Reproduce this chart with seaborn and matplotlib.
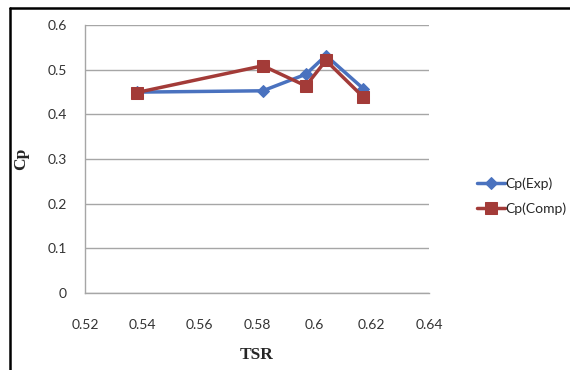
import pandas as pd
import seaborn as sns
import matplotlib.pyplot as plt
from matplotlib.lines import Line2D

tsr_exp = [0.538, 0.582, 0.597, 0.604, 0.617]
cp_exp = [0.450, 0.453, 0.490, 0.532, 0.458]
tsr_comp = [0.538, 0.582, 0.597, 0.604, 0.617]
cp_comp = [0.449, 0.509, 0.464, 0.521, 0.439]
x_ticks = [0.52, 0.54, 0.56, 0.58, 0.60, 0.62, 0.64]
x_labels = ["0.52", "0.54", "0.56", "0.58", "0.6", "0.62", "0.64"]
y_ticks = [0, 0.1, 0.2, 0.3, 0.4, 0.5, 0.6]
y_labels = ["0", "0.1", "0.2", "0.3", "0.4", "0.5", "0.6"]

blue = "#4a72bf"
red = "#a33b38"

sns.set_style("white")
plt.rcParams['font.family'] = ['Lato', 'DejaVu Sans']

fig = plt.figure(figsize=(5.7, 3.7), dpi=100)
ax = fig.add_axes([0.149, 0.208, 0.604, 0.724])

df_exp = pd.DataFrame({"TSR": tsr_exp, "Cp": cp_exp})
df_comp = pd.DataFrame({"TSR": tsr_comp, "Cp": cp_comp})

sns.lineplot(data=df_exp, x="TSR", y="Cp", ax=ax, color=blue, linewidth=2.5,
             marker="D", markersize=6, markeredgecolor=blue, label="Cp(Exp)")
sns.lineplot(data=df_comp, x="TSR", y="Cp", ax=ax, color=red, linewidth=2.5,
             marker="s", markersize=8, markeredgecolor=red, label="Cp(Comp)")

ax.set_xlim(0.52, 0.64)
ax.set_ylim(0, 0.6)
ax.set_xticks(x_ticks)
ax.set_xticklabels(x_labels, fontsize=10, color="#333333")
ax.set_yticks(y_ticks)
ax.set_yticklabels(y_labels, fontsize=10, color="#333333")
ax.tick_params(axis="x", length=0, pad=19)
ax.tick_params(axis="y", length=0, pad=13)
ax.yaxis.grid(True, color="#a6a6a6", linewidth=1)
ax.set_axisbelow(True)
for s in ["top", "right"]:
    ax.spines[s].set_visible(False)
for s in ["left", "bottom"]:
    ax.spines[s].set_color("#a6a6a6")
    ax.spines[s].set_linewidth(1)

ax.set_xlabel("TSR", family="Liberation Serif", fontweight="bold", fontsize=12.5, labelpad=11)
ax.set_ylabel("Cp", family="Liberation Serif", fontweight="bold", fontsize=12.5, labelpad=13)

ax.legend(loc="center left", bbox_to_anchor=(0.815, 0.47), bbox_transform=fig.transFigure,
          frameon=False, fontsize=10, handlelength=2.0, handletextpad=0.05,
          labelspacing=0.9)

# outer chart frame
fig.add_artist(Line2D([10 / 570, 10 / 570], [0, 1 - 8 / 370], color="black", linewidth=1.8))
fig.add_artist(Line2D([10 / 570, 1], [1 - 8 / 370, 1 - 8 / 370], color="black", linewidth=1.8))

plt.savefig("out.png", dpi=100)
